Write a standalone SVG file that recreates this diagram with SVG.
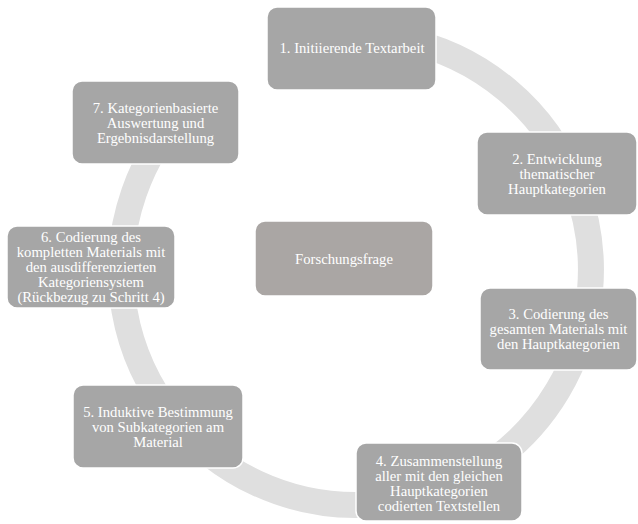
<svg xmlns="http://www.w3.org/2000/svg" width="638" height="524" viewBox="0 0 638 524">
  <style>
    .box { fill: #a6a6a6; stroke: #ffffff; stroke-width: 1.5; }
    .box.center { fill: #aaa6a4; }
    .lbl { font-family: "Liberation Serif", "Times New Roman", serif; font-size: 14.7px; fill: #ffffff; text-anchor: middle; }
    .ring { fill: none; stroke: #dfdfdf; stroke-width: 26; }
  </style>
  <rect width="638" height="524" fill="#ffffff"/>

  <!-- open cycle arc: runs clockwise from step 1 round to step 7, gap between 7 and 1 -->
  <g id="connectors">
    <path class="ring" d="M 295.2 43.0 A 235 235 0 1 1 189.8 103.8"/>
  </g>

  <g id="step1">
    <rect class="box" x="267" y="7" width="169" height="83" rx="10"/>
    <text class="lbl" x="352" y="53">1. Initiierende Textarbeit</text>
  </g>

  <g id="step2">
    <rect class="box" x="477" y="132" width="160" height="83" rx="10"/>
    <text class="lbl" x="557" y="163.5">2. Entwicklung</text>
    <text class="lbl" x="557" y="178.5">thematischer</text>
    <text class="lbl" x="557" y="193.5">Hauptkategorien</text>
  </g>

  <g id="step3">
    <rect class="box" x="480" y="288" width="157" height="82" rx="10"/>
    <text class="lbl" x="558.5" y="319">3. Codierung des</text>
    <text class="lbl" x="558.5" y="334">gesamten Materials mit</text>
    <text class="lbl" x="558.5" y="349">den Hauptkategorien</text>
  </g>

  <g id="step4">
    <rect class="box" x="356" y="443" width="166" height="78" rx="10"/>
    <text class="lbl" x="439" y="466">4. Zusammenstellung</text>
    <text class="lbl" x="439" y="481">aller mit den gleichen</text>
    <text class="lbl" x="439" y="496">Hauptkategorien</text>
    <text class="lbl" x="439" y="511">codierten Textstellen</text>
  </g>

  <g id="step5">
    <rect class="box" x="73" y="385" width="170" height="83" rx="10"/>
    <text class="lbl" x="158" y="416.5">5. Induktive Bestimmung</text>
    <text class="lbl" x="158" y="431.5">von Subkategorien am</text>
    <text class="lbl" x="158" y="446.5">Material</text>
  </g>

  <g id="step6">
    <rect class="box" x="7" y="226" width="168" height="82" rx="10"/>
    <text class="lbl" x="91" y="242">6. Codierung des</text>
    <text class="lbl" x="91" y="257">kompletten Materials mit</text>
    <text class="lbl" x="91" y="272">den ausdifferenzierten</text>
    <text class="lbl" x="91" y="287">Kategoriensystem</text>
    <text class="lbl" x="91" y="302">(Rückbezug zu Schritt 4)</text>
  </g>

  <g id="step7">
    <rect class="box" x="72" y="81" width="167" height="83" rx="10"/>
    <text class="lbl" x="155.5" y="112.5">7. Kategorienbasierte</text>
    <text class="lbl" x="155.5" y="127.5">Auswertung und</text>
    <text class="lbl" x="155.5" y="142.5">Ergebnisdarstellung</text>
  </g>

  <g id="question">
    <rect class="box center" x="255" y="221" width="178" height="75" rx="10"/>
    <text class="lbl" x="344" y="264">Forschungsfrage</text>
  </g>
</svg>
